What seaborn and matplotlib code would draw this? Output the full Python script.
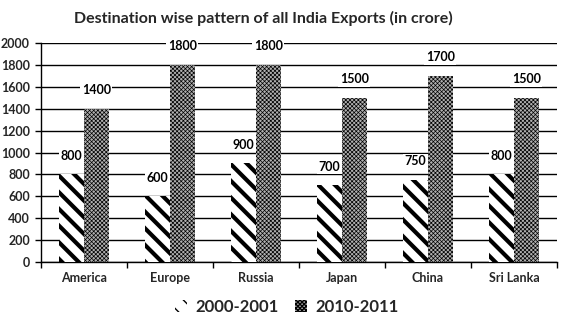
import matplotlib
matplotlib.use("Agg")
import matplotlib.pyplot as plt
import seaborn as sns
import pandas as pd
import numpy as np
from matplotlib.patches import Patch

categories = ["America", "Europe", "Russia", "Japan", "China", "Sri Lanka"]
series_names = ["2000-2001", "2010-2011"]
values_2000 = [800, 600, 900, 700, 750, 800]
values_2010 = [1400, 1800, 1800, 1500, 1700, 1500]
yticks = list(range(0, 2001, 200))

df = pd.DataFrame({
    "Destination": categories * 2,
    "Year": [series_names[0]] * len(categories) + [series_names[1]] * len(categories),
    "Value": values_2000 + values_2010,
})

sns.set_theme(style="white")
plt.rcParams["font.family"] = ["Lato", "DejaVu Sans"]
plt.rcParams["font.weight"] = "bold"
plt.rcParams["hatch.color"] = "black"

fig = plt.figure(figsize=(5.70, 3.27), dpi=100)
ax = fig.add_axes([41/570, 1 - 262/327, 516/570, 219/327])

sns.barplot(data=df, x="Destination", y="Value", hue="Year", ax=ax,
            palette=["white", "white"], width=0.57, gap=0, legend=False,
            edgecolor="black", linewidth=0, zorder=3)

H1, H2 = "\\\\", "xxxxxxxx"
for container, name in zip(ax.containers, series_names):
    for bar in container:
        bar.set_edgecolor("black")
        bar.set_linewidth(0)
        if name == series_names[0]:
            bar.set_hatch(H1)
            bar.set_hatch_linewidth(3.0)
            bar.set_facecolor("white")
        else:
            bar.set_hatch(H2)
            bar.set_hatch_linewidth(0.5)
            bar.set_facecolor("#b0b0b0")
    ax.bar_label(container, labels=[str(int(b.get_height())) for b in container],
                 padding=9, fontsize=9, fontweight="bold", color="black",
                 bbox=dict(facecolor="white", edgecolor="none", pad=1), zorder=5)

ax.set_ylim(0, 2000)
ax.set_yticks(yticks)
ax.set_yticklabels([str(t) for t in yticks], fontsize=9, fontweight="bold")
ax.yaxis.grid(True, color="black", linewidth=1.0, zorder=0)
ax.set_axisbelow(True)
ax.set_xlim(-0.5, len(categories) - 0.5)
ax.set_xticks(range(len(categories)))
ax.set_xticklabels(categories, fontsize=9, fontweight="bold")
ax.tick_params(axis="x", length=0, pad=7)
ax.set_xticks(np.arange(-0.5, len(categories), 1.0), minor=True)
ax.tick_params(axis="x", which="minor", length=4, direction="out", width=1, color="black", bottom=True)
ax.tick_params(axis="y", length=4, direction="out", width=1, color="black", left=True, pad=4)
for s in ["top", "right"]:
    ax.spines[s].set_visible(False)
for s in ["left", "bottom"]:
    ax.spines[s].set_color("black")
    ax.spines[s].set_linewidth(1.0)
ax.set_xlabel("")
ax.set_ylabel("")

fig.text(263/570, 1 - 18/327, "Destination wise pattern of all India Exports (in crore)",
         ha="center", va="center", fontsize=11.5, fontweight="bold")

p1 = Patch(facecolor="white", hatch=H1, edgecolor="black", linewidth=0)
p1.set_hatch_linewidth(2.0)
p2 = Patch(facecolor="#b0b0b0", hatch=H2, edgecolor="black", linewidth=0)
p2.set_hatch_linewidth(0.5)
fig.legend([p1, p2], series_names, loc="center", bbox_to_anchor=(0.503, 1 - 307/327),
           ncol=2, frameon=False, prop={"weight": "bold", "size": 12},
           handlelength=0.7, handleheight=0.7, columnspacing=1.0, handletextpad=0.5)

fig.savefig("out.png", dpi=100, facecolor="white")
